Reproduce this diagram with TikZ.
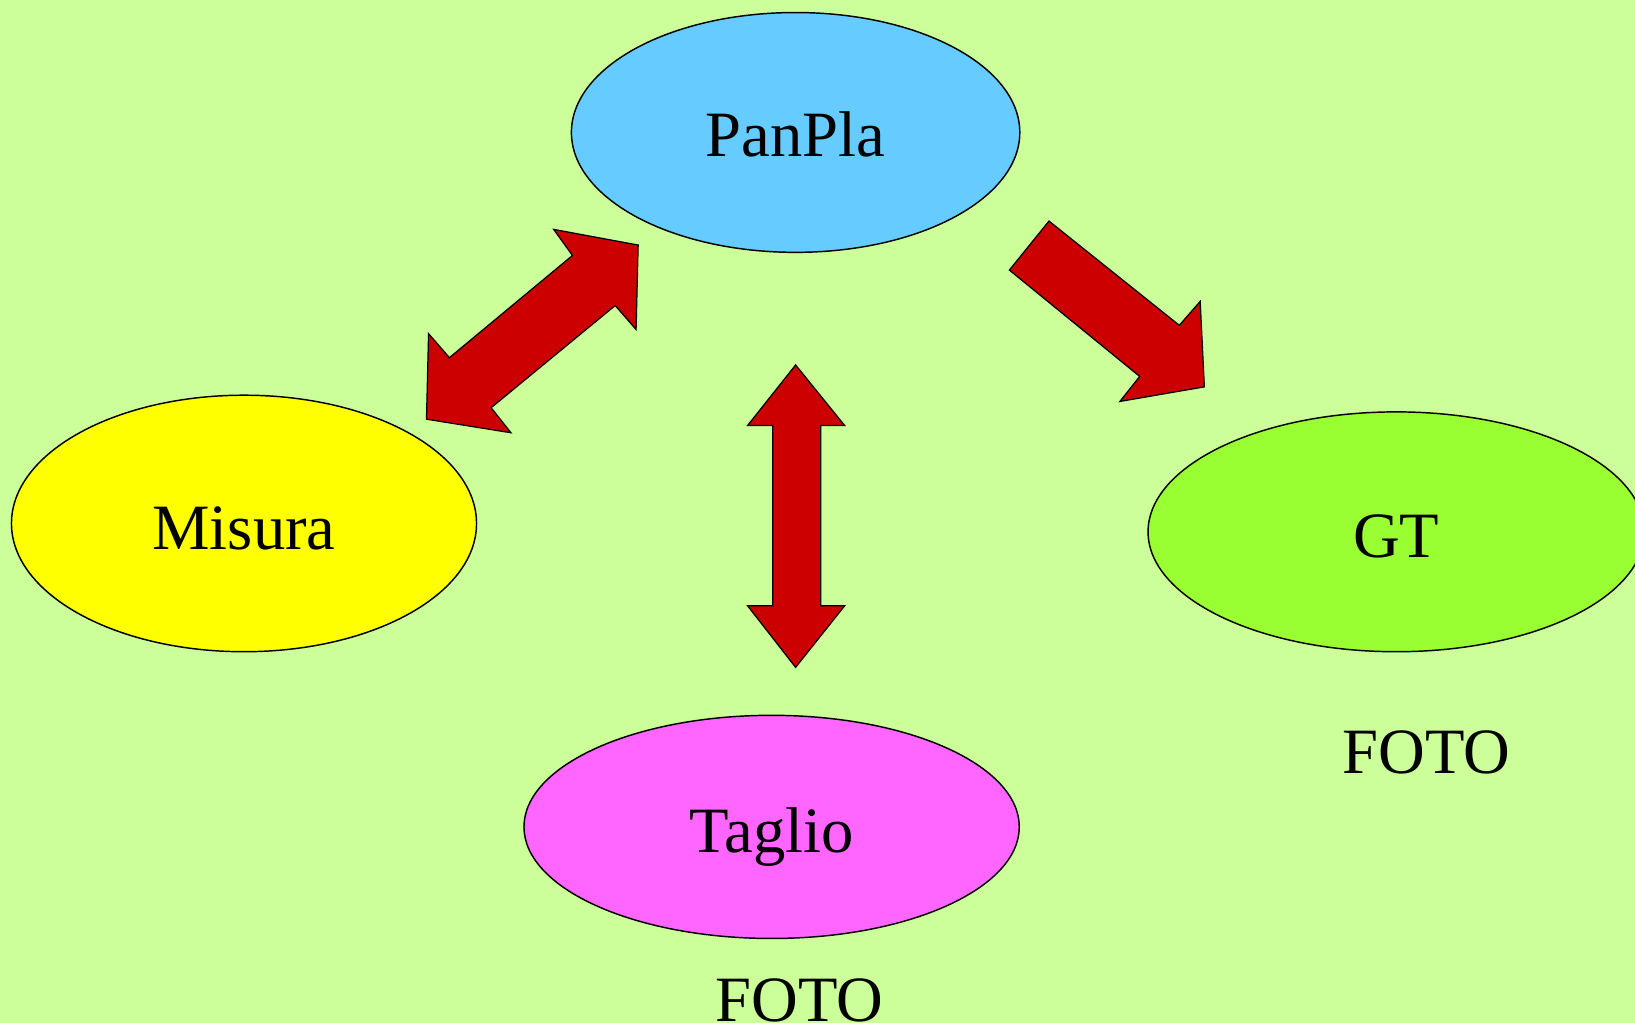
\documentclass[tikz,border=0pt]{standalone}
\usepackage{fontspec}
\setmainfont{Liberation Serif}
\usetikzlibrary{shapes.geometric}
\definecolor{bgc}{HTML}{CCFF99}
\definecolor{panc}{HTML}{66CCFF}
\definecolor{misc}{HTML}{FFFF00}
\definecolor{gtc}{HTML}{99FF33}
\definecolor{tagc}{HTML}{FF66FF}
\definecolor{arrc}{HTML}{CC0000}
\tikzset{
  blob/.style={ellipse, draw=black, line width=0.7pt, inner sep=0pt, outer sep=0pt},
  lbl/.style={font=\fontsize{31}{37}\selectfont, inner sep=0pt, anchor=base},
  blockarrow/.style={fill=arrc, draw=black, line width=0.6pt, line join=miter}
}
\begin{document}
\begin{tikzpicture}[x=0.5pt,y=-0.5pt]
\fill[bgc] (0,0) rectangle (1568,981);
\useasboundingbox (0,0) rectangle (1568,981);

\node[blob, fill=panc, minimum width=215pt, minimum height=115pt] (pan) at (763,127) {};
\node[blob, fill=misc, minimum width=223pt, minimum height=123pt] (mis) at (234,502) {};
\node[blob, fill=gtc, minimum width=238pt, minimum height=115pt] (gt) at (1339,510) {};
\node[blob, fill=tagc, minimum width=237.5pt, minimum height=107pt] (tag) at (740,793) {};

\node[lbl] (panl) at (763,150) {PanPla};
\node[lbl] (misl) at (234,527) {Misura};
\node[lbl] (gtl) at (1339,535) {GT};
\node[lbl] (tagl) at (740,818) {Taglio};
\node[lbl] (foto1) at (1368,742) {FOTO};
\node[lbl] (foto2) at (767,980) {FOTO};

% double arrow Misura <-> PanPla
\draw[blockarrow] (612,235) -- (610,316) -- (590,293) -- (471,391) -- (490,415)
  -- (409,402) -- (411,320) -- (431,343) -- (549,245) -- (531,220) -- cycle;
% arrow PanPla -> GT
\draw[blockarrow] (1006,212) -- (1131,312) -- (1151,289) -- (1155,371) -- (1074,385)
  -- (1093,361) -- (968,259) -- cycle;
% vertical double arrow PanPla <-> Taglio
\draw[blockarrow] (763,350) -- (810,408) -- (787,408) -- (787,581) -- (810,581)
  -- (763,640) -- (717,581) -- (741,581) -- (741,408) -- (717,408) -- cycle;
\end{tikzpicture}
\end{document}
